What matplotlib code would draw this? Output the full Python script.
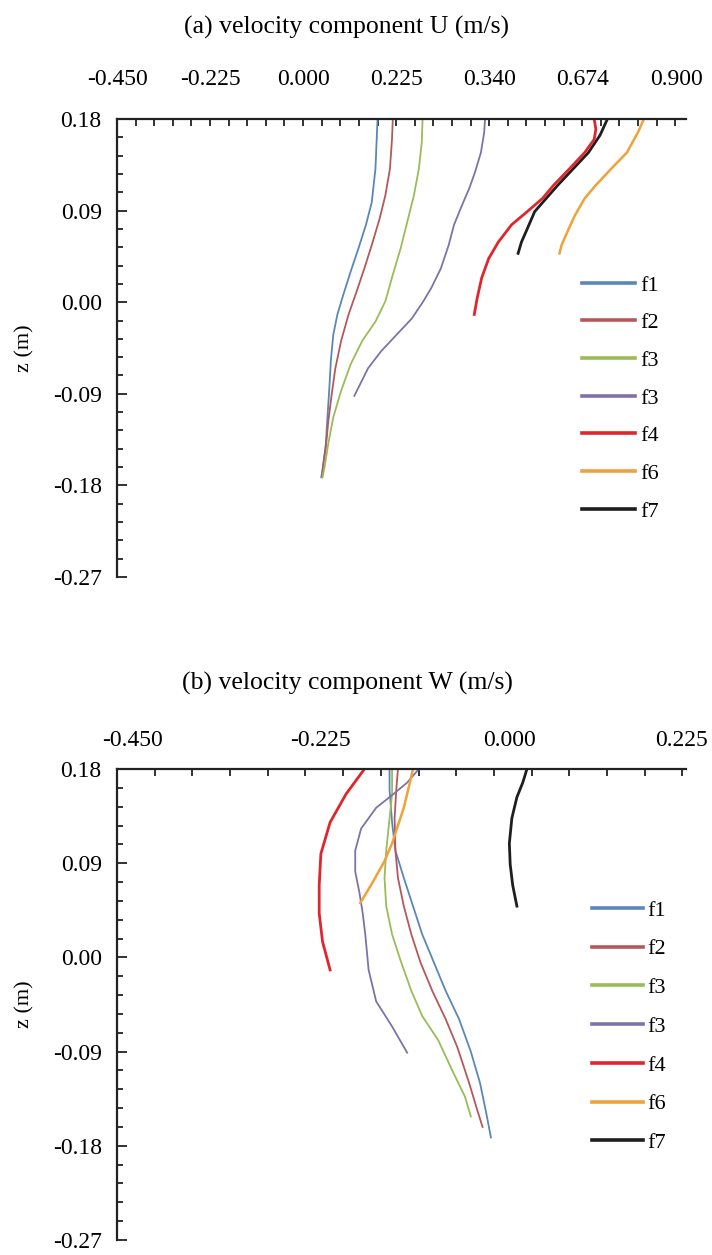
import matplotlib
matplotlib.use("Agg")
import numpy as np
from matplotlib import pyplot as plt

plt.rcParams['font.family'] = ['Liberation Serif', 'DejaVu Serif']

# ---- data (x in axis position units, as the ticks are labelled) ----
names = ["f1", "f2", "f3", "f3", "f4", "f6", "f7"]
colors = ["#5a87b8", "#b5585c", "#9bbb59", "#7f72a6", "#e0262d", "#f0a23a", "#1e1e1e"]
widths = [1.3, 1.3, 1.3, 1.3, 2.0, 1.8, 2.0]

z_ticks = [0.18, 0.09, 0.00, -0.09, -0.18, -0.27]
z_labels = ["0.18", "0.09", "0.00", "-0.09", "-0.18", "-0.27"]

# (a) velocity component U
u_tick_pos = [-0.45, -0.225, 0.0, 0.225, 0.45, 0.675, 0.9]
u_tick_labels = ["-0.450", "-0.225", "0.000", "0.225", "0.340", "0.674", "0.900"]

u_f1_x = [0.178, 0.176, 0.173, 0.164, 0.150, 0.132, 0.113, 0.095, 0.081, 0.071, 0.065, 0.062, 0.057, 0.053, 0.046, 0.042]
u_f1_z = [0.180, 0.160, 0.131, 0.098, 0.076, 0.053, 0.030, 0.007, -0.012, -0.032, -0.058, -0.081, -0.113, -0.139, -0.162, -0.172]
u_f2_x = [0.215, 0.213, 0.208, 0.197, 0.183, 0.164, 0.146, 0.127, 0.108, 0.090, 0.076, 0.067, 0.059, 0.053, 0.046, 0.044]
u_f2_z = [0.180, 0.160, 0.131, 0.105, 0.082, 0.056, 0.033, 0.010, -0.012, -0.038, -0.065, -0.091, -0.117, -0.143, -0.162, -0.172]
u_f3_x = [0.287, 0.285, 0.278, 0.266, 0.250, 0.234, 0.215, 0.197, 0.173, 0.141, 0.113, 0.090, 0.071, 0.059, 0.050, 0.045]
u_f3_z = [0.180, 0.157, 0.131, 0.105, 0.079, 0.053, 0.027, 0.001, -0.019, -0.038, -0.061, -0.087, -0.113, -0.139, -0.162, -0.172]
u_f3b_x = [0.438, 0.436, 0.428, 0.414, 0.400, 0.382, 0.363, 0.350, 0.331, 0.308, 0.289, 0.261, 0.224, 0.187, 0.155, 0.122]
u_f3b_z = [0.180, 0.167, 0.147, 0.128, 0.112, 0.095, 0.076, 0.056, 0.033, 0.014, 0.001, -0.016, -0.032, -0.048, -0.065, -0.092]
u_f4_x = [0.702, 0.706, 0.702, 0.679, 0.642, 0.604, 0.577, 0.540, 0.502, 0.470, 0.447, 0.430, 0.419, 0.412]
u_f4_z = [0.180, 0.170, 0.160, 0.147, 0.131, 0.115, 0.102, 0.089, 0.076, 0.059, 0.043, 0.024, 0.004, -0.012]
u_f6_x = [0.822, 0.808, 0.781, 0.743, 0.706, 0.679, 0.655, 0.637, 0.623, 0.618]
u_f6_z = [0.180, 0.167, 0.147, 0.131, 0.115, 0.102, 0.085, 0.069, 0.056, 0.048]
u_f7_x = [0.734, 0.716, 0.688, 0.651, 0.614, 0.586, 0.558, 0.540, 0.526, 0.518]
u_f7_z = [0.180, 0.164, 0.147, 0.131, 0.115, 0.102, 0.089, 0.072, 0.059, 0.048]

# (b) velocity component W
w_tick_pos = [-0.45, -0.225, 0.0, 0.205]
w_tick_labels = ["-0.450", "-0.225", "0.000", "0.225"]

w_f1_x = [-0.143, -0.143, -0.140, -0.136, -0.126, -0.115, -0.104, -0.090, -0.076, -0.060, -0.046, -0.035, -0.028, -0.022]
w_f1_z = [0.180, 0.160, 0.129, 0.102, 0.076, 0.049, 0.022, -0.005, -0.032, -0.059, -0.090, -0.120, -0.147, -0.172]
w_f2_x = [-0.133, -0.135, -0.137, -0.136, -0.133, -0.126, -0.117, -0.106, -0.092, -0.076, -0.062, -0.048, -0.039, -0.032]
w_f2_z = [0.180, 0.160, 0.133, 0.102, 0.076, 0.049, 0.022, -0.005, -0.032, -0.059, -0.086, -0.120, -0.144, -0.162]
w_f3_x = [-0.140, -0.140, -0.143, -0.147, -0.149, -0.147, -0.140, -0.129, -0.117, -0.104, -0.085, -0.067, -0.053, -0.046]
w_f3_z = [0.180, 0.156, 0.133, 0.102, 0.076, 0.049, 0.022, -0.005, -0.032, -0.056, -0.079, -0.110, -0.133, -0.152]
w_f3b_x = [-0.108, -0.122, -0.140, -0.159, -0.177, -0.184, -0.184, -0.179, -0.175, -0.172, -0.168, -0.159, -0.140, -0.122]
w_f3b_z = [0.180, 0.167, 0.155, 0.143, 0.123, 0.102, 0.082, 0.062, 0.042, 0.022, -0.012, -0.042, -0.066, -0.091]
w_f4_x = [-0.173, -0.195, -0.214, -0.225, -0.227, -0.227, -0.223, -0.214]
w_f4_z = [0.180, 0.156, 0.129, 0.099, 0.069, 0.042, 0.015, -0.012]
w_f6_x = [-0.115, -0.120, -0.126, -0.133, -0.140, -0.149, -0.163, -0.178]
w_f6_z = [0.180, 0.163, 0.143, 0.126, 0.109, 0.092, 0.072, 0.052]
w_f7_x = [0.021, 0.016, 0.009, 0.003, 0.000, 0.001, 0.004, 0.009]
w_f7_z = [0.180, 0.167, 0.153, 0.133, 0.109, 0.089, 0.069, 0.049]

u_series = [(u_f1_x, u_f1_z), (u_f2_x, u_f2_z), (u_f3_x, u_f3_z), (u_f3b_x, u_f3b_z),
            (u_f4_x, u_f4_z), (u_f6_x, u_f6_z), (u_f7_x, u_f7_z)]
w_series = [(w_f1_x, w_f1_z), (w_f2_x, w_f2_z), (w_f3_x, w_f3_z), (w_f3b_x, w_f3b_z),
            (w_f4_x, w_f4_z), (w_f6_x, w_f6_z), (w_f7_x, w_f7_z)]

W, H = 712, 1255
fig = plt.figure(figsize=(W / 100, H / 100), dpi=100)


def panel(rect, series, xlim, tick_pos, tick_labels, label_pad,
          leg_xy, leg_spacing, leg_handle):
    ax = fig.add_axes(rect)
    order = [0, 1, 2, 3, 5, 6, 4]  # draw red f4 on top
    lines = [None] * len(series)
    for i in order:
        x, z = series[i]
        lines[i], = ax.plot(x, z, color=colors[i], lw=widths[i], label=names[i])

    ax.set_xlim(*xlim)
    ax.set_ylim(-0.27, 0.18)

    for s in ["right", "bottom"]:
        ax.spines[s].set_visible(False)
    for s in ["left", "top"]:
        ax.spines[s].set_linewidth(1.6)
        ax.spines[s].set_color("#222222")

    ax.set_xticks(tick_pos)
    ax.set_xticklabels(tick_labels)
    ax.set_xticks(np.arange(xlim[0], xlim[1] + 1e-6, 0.045), minor=True)
    ax.tick_params(axis="x", which="both", top=True, bottom=False,
                   labeltop=True, labelbottom=False)
    ax.tick_params(axis="x", which="major", length=0, pad=label_pad, labelsize=17)
    ax.tick_params(axis="x", which="minor", direction="in", length=5, width=1.3,
                   color="#222222")

    ax.set_yticks(z_ticks)
    ax.set_yticklabels(z_labels)
    ax.set_yticks(np.arange(-0.27, 0.18 + 1e-6, 0.018), minor=True)
    ax.tick_params(axis="y", which="both", direction="in", left=True, right=False,
                   color="#222222", width=1.3, labelsize=17, pad=11)
    ax.tick_params(axis="y", which="major", length=7)
    ax.tick_params(axis="y", which="minor", length=4.5)

    leg = ax.legend(lines, names, loc="upper left",
                    bbox_to_anchor=(leg_xy[0] / W, 1 - leg_xy[1] / H),
                    bbox_transform=fig.transFigure, frameon=False, fontsize=16,
                    handlelength=leg_handle, handletextpad=0.2,
                    labelspacing=leg_spacing, borderpad=0, borderaxespad=0)
    for h in leg.get_lines():
        h.set_linewidth(2.6)
    return ax


def rect_for(x0_px, x1_px, top_px, bottom_px):
    return [x0_px / W, 1 - bottom_px / H, (x1_px - x0_px) / W, (bottom_px - top_px) / H]


# (a): positions -> pixels 118 + (p + 0.45) / 0.225 * 93
ax_a = panel(rect_for(117, 686, 119, 577), u_series, (-0.452, 0.924),
             u_tick_pos, u_tick_labels, 21, (582, 275), 0.77, 2.4)
# (b)
ax_b = panel(rect_for(117, 686, 769, 1240), w_series, (-0.4684, 0.2109),
             w_tick_pos, w_tick_labels, 13, (592, 900), 0.82, 2.3)

fig.text(347 / W, 1 - 27 / H, "(a) velocity component U (m/s)", ha="center",
         va="center", fontsize=18.5)
fig.text(347 / W, 1 - 683 / H, "(b) velocity component W (m/s)", ha="center",
         va="center", fontsize=18.5)
fig.text(25 / W, 1 - 348 / H, "z (m)", rotation=90, ha="center", va="center", fontsize=16)
fig.text(25 / W, 1 - 1004 / H, "z (m)", rotation=90, ha="center", va="center", fontsize=16)

fig.savefig("out.png", dpi=100)
